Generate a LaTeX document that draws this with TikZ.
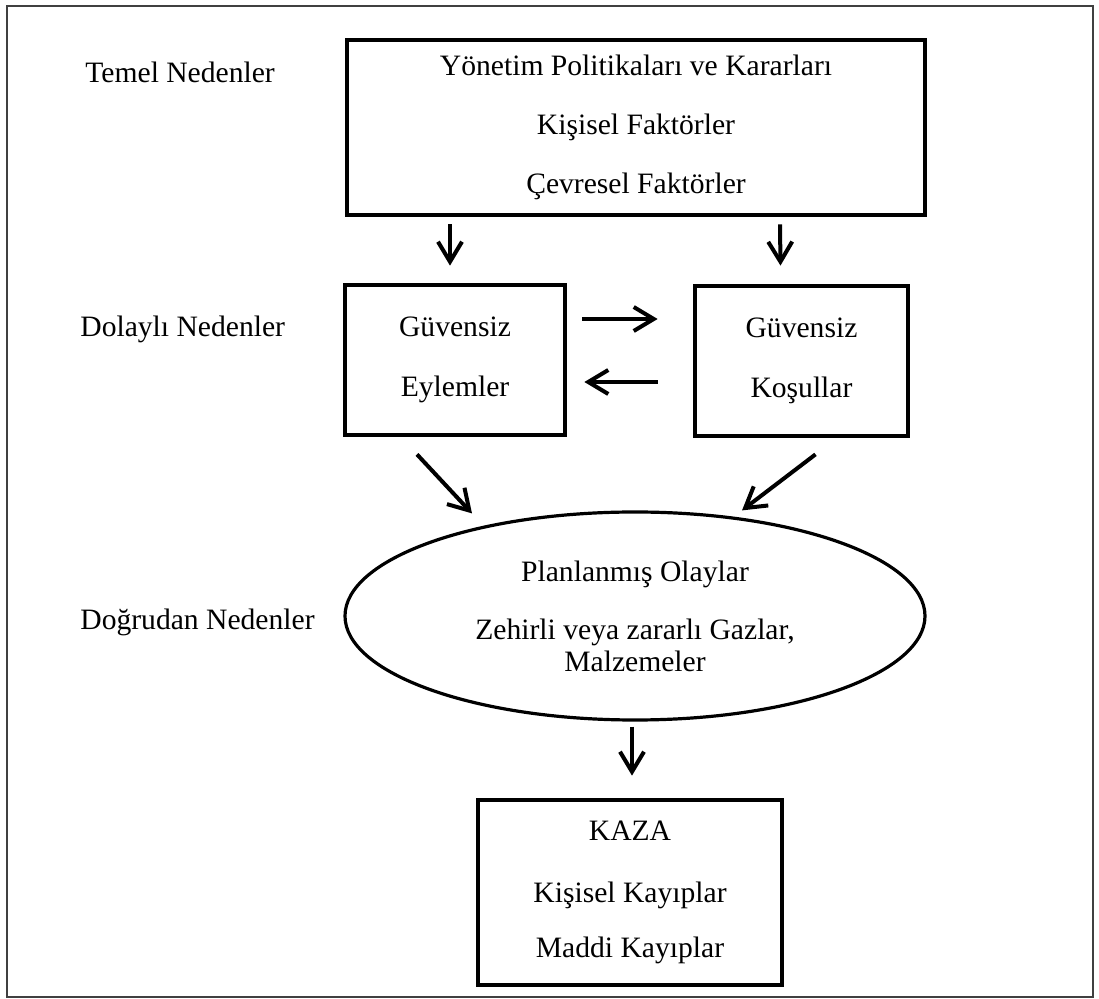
\documentclass[tikz,border=0pt]{standalone}
\usepackage{fontspec}
\setmainfont{Liberation Serif}
\usetikzlibrary{arrows.meta,
positioning,
shapes.geometric}

\begin{document}
\begin{tikzpicture}[
				x=0.5pt, y=-0.5pt,
				kutu/.style={draw, line width=2.4pt, align=center, inner sep=0pt},
				etiket/.style={anchor=west, inner sep=0pt, font=\fontsize{14.8}{18}\selectfont},
				ok/.style={-{Straight Barb[length=10pt,width=12pt]}, line width=2pt}
			]
				\useasboundingbox (0,0) rectangle (1099,999);
				\draw [line width=0.75pt, black!75] (7,6) rectangle (1093,997);
				\node [etiket] (temel) at (85,72) {Temel Nedenler};
				\node [etiket] (dolayli) at (80,329) {Dolaylı Nedenler};
				\node [etiket] (dogrudan) at (80,622) {Doğrudan Nedenler};
				\node [kutu, minimum width=289pt, minimum height=87.5pt, font=\fontsize{14.8}{29.5}\selectfont] (yonetim) at (636,127.5) {Yönetim Politikaları ve Kararları\\Kişisel Faktörler\\Çevresel Faktörler};
				\node [kutu, minimum width=110pt, minimum height=75pt, font=\fontsize{14.8}{30}\selectfont] (eylem) at (455,360) {Güvensiz\\Eylemler};
				\node [kutu, minimum width=106.5pt, minimum height=75pt, font=\fontsize{14.8}{30}\selectfont] (kosul) at (801.5,361) {Güvensiz\\Koşullar};
				\node [draw, ellipse, line width=1.6pt, align=center, inner sep=0pt, minimum width=290pt, minimum height=104pt, font=\fontsize{14.8}{16}\selectfont] (plan) at (635,616) {Planlanmış Olaylar\\[13pt]Zehirli veya zararlı Gazlar,\\Malzemeler};
				\node [kutu, minimum width=152pt, minimum height=92.5pt, font=\fontsize{14.8}{27.5}\selectfont] (kaza) at (630,892.5) {KAZA\\[3.5pt]Kişisel Kayıplar\\Maddi Kayıplar};
				\path[ok]
					([shift={(-186,7)}]yonetim.south) edge ([shift={(-5,-17)}]eylem.north)
					([shift={(144,7)}]yonetim.south) edge ([shift={(-21,-18)}]kosul.north);
				\path[ok]
					([shift={(15,-41)}]eylem.east) edge ([shift={(-35,-42)}]kosul.west)
					([shift={(-35,21)}]kosul.west) edge ([shift={(17,22)}]eylem.east);
				\path[ok]
					([shift={(-38,17)}]eylem.south) edge ([shift={(-163,3)}]plan.north)
					([shift={(14,16)}]kosul.south) edge ([shift={(107,0)}]plan.north);
				\draw[ok] ([shift={(-3,5)}]plan.south) -- ([shift={(2,-22)}]kaza.north);
			\end{tikzpicture}
\end{document}
